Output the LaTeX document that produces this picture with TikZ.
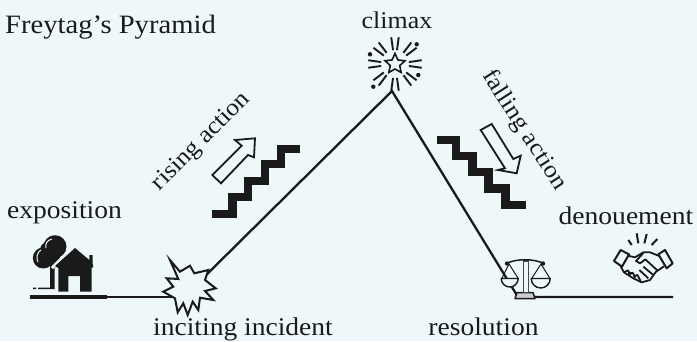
\documentclass[tikz,border=0pt]{standalone}
\usepackage{fontspec}
\setmainfont[FakeStretch=1.08]{Liberation Serif}
\usetikzlibrary{positioning,shapes.geometric}
\definecolor{paper}{HTML}{EEF7FA}
\definecolor{ink}{HTML}{1A1A1A}
\tikzset{
 label/.style={inner sep=0pt,text=ink,font=\fontsize{25.5}{27}\selectfont},
 slanted/.style={inner sep=0pt,text=ink,font=\fontsize{24}{26}\selectfont},
 curve/.style={draw=ink,line width=2.3pt},
 stairs/.style={draw=ink,line width=8.5pt,miter limit=10},
 hollow/.style={draw=ink,line width=1.8pt,fill=paper,line join=miter},
 icon/.style={draw=ink,line width=1.2pt,line join=round},
}
\begin{document}
\begin{tikzpicture}[x=1pt,y=-1pt]
 \fill [paper] (0,0) rectangle (697,341);
 \useasboundingbox (0,0) rectangle (697,341);
 % plot line
 \coordinate (start) at (30,297);
 \coordinate [right=77pt of start] (thick_end);
 \coordinate [right=142pt of start] (inciting_in);
 \coordinate (inciting_out) at (190,291);
 \coordinate (peak) at (392,91);
 \coordinate (res_in) at (518,297);
 \coordinate [right=155pt of res_in] (finish);
 \draw [curve] (start) -- (inciting_in);
 \draw [curve,line width=3.4pt] (start) -- (thick_end);
 \draw [curve] (inciting_out) -- (peak) -- (res_in) -- (finish);
 % labels
 \node [label,anchor=base,font=\fontsize{26.5}{28}\selectfont] (title) at (110.5,33) {Freytag's Pyramid};
 \node [label,anchor=base] (exposition) at (64.5,218) {exposition};
 \node [label,anchor=base,font=\fontsize{24}{26}\selectfont] (climax) at (397,28) {climax};
 \node [label,anchor=base] (denouement) at (626,224) {denouement};
 \node [label,anchor=base] (inciting) at (243,335) {inciting incident};
 \node [label,anchor=base] (resolution) at (483.5,335) {resolution};
 \node [slanted,rotate=45] (rising) at (201.7,141.7) {rising action};
 \node [slanted,rotate=-57.5] (falling) at (524,130) {falling action};
 % stairs and arrows
 \draw [stairs] (212,214) -| (232.5,197) -| (248,181) -| (265,164) -| (281,149) -- (300,149);
 \draw [stairs] (437,140) -| (456,156) -| (472.7,172) -| (488.7,188.3) -| (505.3,205) -- (525.7,205);
 \draw [hollow] (212.3,175) -- (241.7,145.7) -- (235,140) -- (255,138.3) -- (254,157.3) -- (248,155) -- (221,183.3) -- cycle;
 \draw [hollow] (480.7,130) -- (505,168.3) -- (498,170) -- (516.7,173.3) -- (520.7,155.7) -- (513.3,159) -- (491.7,124) -- cycle;
 % burst
 \draw [icon,line width=2pt,fill=paper,line join=miter] (170,260) -- (180,271.7) -- (190,265.7) -- (194.3,273.3) -- (208.3,270) -- (205,280)
  -- (215.7,288.3) -- (205,291) -- (213.3,300) -- (200,297.7) -- (198.3,310) -- (192.7,301.7) -- (187.7,315) -- (183.3,303.3)
  -- (177.7,312.3) -- (175,298.3) -- (163.3,291.7) -- (173.3,286.7) -- (166.7,278.3) -- (178.3,279) -- cycle;
 % house and tree
 \fill [ink] (55,246.7) circle (11.5) (43.3,258) circle (10.5) (48,250) circle (8) (52,258) circle (8);
 \draw [paper,line width=1pt] (52,239) .. controls (47,240) and (45,244) .. (46,248) (41,250) .. controls (37,252) and (36,258) .. (38,262);
 \fill [ink] (50,266) rectangle (55,289) (33,287.5) rectangle (36,289) (38,287.5) rectangle (54,289);
 \draw [paper,line width=3pt] (52,268) -- (73,247) (56,268) -- (56,290);
 \fill [ink] (75,248) -- (89.3,260) -- (89.3,255) -- (92.7,255) -- (92.7,264) -- (93.3,266.7) -- (91.7,268) -- (91.7,291.7) -- (80,291.7) -- (80,276)
  -- (68.3,276) -- (68.3,291.7) -- (58.3,291.7) -- (58.3,268) -- (55,266) -- cycle;
 % star and rays
 \node [star,star points=5,star point ratio=2.1,draw=ink,line width=1.6pt,minimum size=21pt,inner sep=0pt] (star) at (395,64) {};
 \foreach \ang in {0,45,...,315} {
  \draw [icon,line width=1.9pt] (star.center) ++(\ang-8:14) -- ++(\ang-8:13);
  \draw [icon,line width=1.9pt] (star.center) ++(\ang+8:14) -- ++(\ang+8:13);
 }
 \fill [ink] (370,54.3) circle (2.2) (416.7,44.3) circle (2.2) (418.3,75) circle (2.2) (373.3,86.7) circle (2.2);
 % scales
 \draw [icon,fill=gray!40,line width=1.5pt] (515,298.5) -- (517,292.5) -- (533,292.5) -- (535,298.5) -- cycle;
 \draw [icon,fill=paper,draw=ink!80] (523.3,261) rectangle (528.3,292.5);
 \draw [icon,line width=1.5pt] (506.7,263.5) .. controls (515,258.5) and (535,258.5) .. (543.3,263.5);
 \fill [ink] (507,263.5) circle (2.2) (543,263.5) circle (2.2);
 \draw [icon,line width=1pt] (501.7,278.5) -- (509,264) -- (518.3,278.5) (531.7,278.5) -- (541,264) -- (550,278.5);
 \draw [icon,fill=paper,line width=1.4pt] (501.2,278.5) arc (180:0:8.5) -- cycle;
 \draw [icon,fill=paper,line width=1.4pt] (531.2,278.5) arc (180:0:9.5) -- cycle;
 % handshake
 \begin{scope}[shift={(600,225)},scale=1/3]
  \foreach \xa/\ya/\xb/\yb in {85/45/95/60,110/25/115/55,140/27/133/55,172/42/155/60}
   \draw [icon,line width=2pt] (\xa,\ya) -- (\xb,\yb);
  \draw [icon,line width=2pt] (42,108) -- (62,75) -- (87,88) -- (66,125) -- cycle;
  \draw [icon,line width=2pt] (175,88) -- (195,75) -- (218,115) -- (200,130) -- cycle;
  \draw [icon,line width=1.8pt] (84,92) -- (105,97) -- (130,82) -- (150,82) -- (178,93);
  \draw [icon,line width=1.8pt] (192,124) -- (168,140) -- (150,165) -- (125,172) -- (100,160) -- (72,142) -- (62,124);
  \draw [icon,line width=1.8pt] (130,84) -- (108,108) -- (120,115) -- (136,103) -- (174,138);
  \draw [icon,line width=1.8pt] (130,125) -- (160,150) (118,135) -- (145,160);
  \draw [icon,line width=1.8pt] (72,142) -- (84,136) -- (92,150) (84,146) -- (98,143) -- (106,158) (100,154) -- (112,150) -- (122,168);
 \end{scope}
\end{tikzpicture}
\end{document}
